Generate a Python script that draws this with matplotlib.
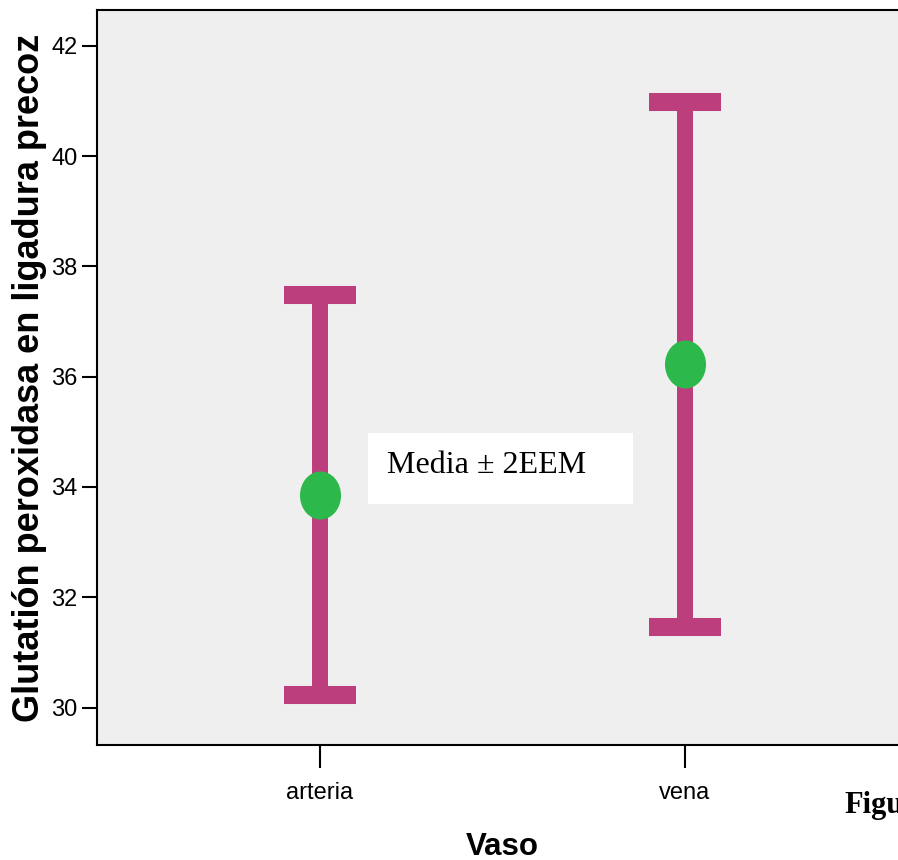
import matplotlib
matplotlib.use("Agg")
import matplotlib.pyplot as plt
from matplotlib.markers import MarkerStyle
from matplotlib.transforms import Affine2D
from matplotlib.patches import Rectangle

# Mean and 2*SEM limits of glutathione peroxidase by vessel
categories = ["arteria", "vena"]
means = [33.86, 36.23]
lower = [30.22, 31.46]
upper = [37.48, 40.98]
yticks = [30, 32, 34, 36, 38, 40, 42]

bar_color = "#BC3E7C"
dot_color = "#2DB84B"
bg_color = "#EFEFEF"

fig = plt.figure(figsize=(8.98, 8.60), dpi=100)
ax = fig.add_axes([0.1080, 0.1337, 0.9031, 0.8547])
ax.set_facecolor(bg_color)

x = list(range(len(categories)))
err_lo = [m - l for m, l in zip(means, lower)]
err_hi = [u - m for m, u in zip(means, upper)]

ax.errorbar(x, means, yerr=[err_lo, err_hi], fmt="none",
            ecolor=bar_color, elinewidth=11.5, capsize=26, capthick=13,
            zorder=2)

dot = MarkerStyle("o", transform=Affine2D().scale(41 / 48, 1.0))
ax.plot(x, means, linestyle="none", marker=dot, markersize=34.6,
        markerfacecolor=dot_color, markeredgecolor=dot_color,
        markeredgewidth=0, zorder=3)

ax.set_xlim(-0.611, 1.611)
ax.set_ylim(29.32, 42.65)
ax.set_xticks(x)
ax.set_xticklabels(categories)
ax.set_yticks(yticks)
ax.set_yticklabels([str(v) for v in yticks])

for lab in ax.get_xticklabels() + ax.get_yticklabels():
    lab.set_fontfamily("Liberation Sans")
    lab.set_fontsize(17)

ax.tick_params(axis="y", direction="out", length=11, width=1.5, pad=3,
               color="black")
ax.tick_params(axis="x", direction="out", length=16.5, width=1.5, pad=10,
               color="black")
for side in ["left", "bottom", "top", "right"]:
    ax.spines[side].set_linewidth(1.5)
    ax.spines[side].set_color("black")

ax.set_xlabel("Vaso", fontfamily="Liberation Sans", fontweight="bold",
              fontsize=22.5, labelpad=20)
ax.set_ylabel("Glutatión peroxidasa en ligadura precoz",
              fontfamily="Liberation Sans", fontweight="bold", fontsize=26,
              labelpad=3)

# Caption box for the error-bar definition
ax.add_patch(Rectangle((0.3342, 0.3279), 0.3268, 0.0966,
                       transform=ax.transAxes, facecolor="white",
                       edgecolor="none", zorder=4))
ax.text(0.3576, 0.370, "Media ± 2EEM", transform=ax.transAxes,
        fontfamily="Liberation Serif", fontsize=23, va="baseline",
        ha="left", zorder=5)

fig.text(0.9399, 0.0547, "Figura", fontfamily="Liberation Serif",
         fontweight="bold", fontsize=22, va="baseline", ha="left")

fig.savefig("out.png", dpi=100, facecolor="white")
